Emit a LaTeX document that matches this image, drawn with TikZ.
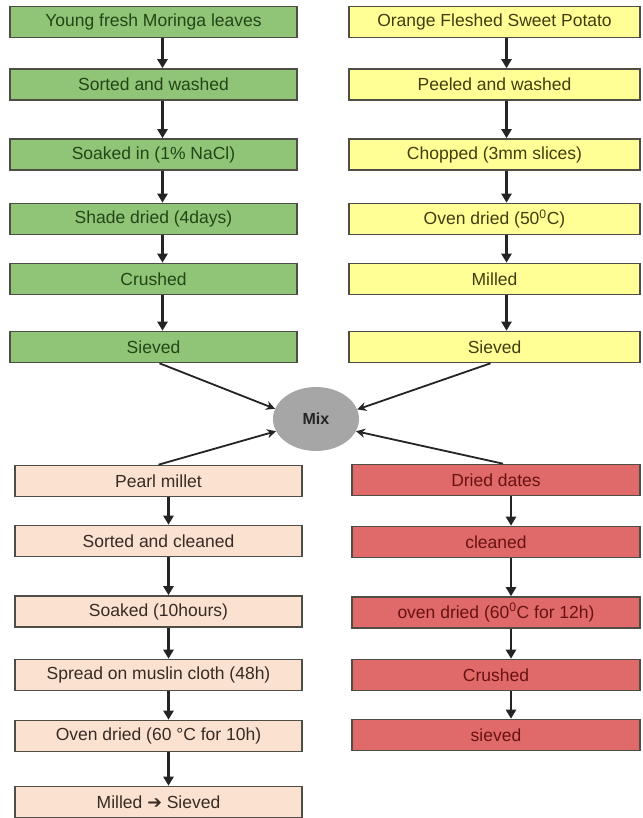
\documentclass[tikz,border=0pt]{standalone}
\usepackage{fontspec}
\setmainfont{Liberation Sans}
\newfontfamily\symfont{DejaVu Sans}
\usetikzlibrary{arrows.meta,shapes.geometric}
\definecolor{leafgreen}{RGB}{144,196,118}
\definecolor{leaftext}{RGB}{34,70,24}
\definecolor{potatofill}{RGB}{255,255,150}
\definecolor{potatotext}{RGB}{64,62,16}
\definecolor{milletfill}{RGB}{251,226,208}
\definecolor{millettext}{RGB}{56,42,36}
\definecolor{datefill}{RGB}{224,106,106}
\definecolor{datetext}{RGB}{104,18,18}
\definecolor{boxline}{RGB}{78,78,70}
\definecolor{mixgray}{RGB}{166,166,166}
\definecolor{arrowgray}{RGB}{36,36,36}
\begin{document}
\begin{tikzpicture}[x=1pt,y=-1pt,
	box/.style={draw=boxline,line width=1.6pt,minimum height=31pt,inner sep=0pt,font=\fontsize{17.5}{20}\selectfont},
	gbox/.style={box,fill=leafgreen,text=leaftext,minimum width=287pt},
	ybox/.style={box,fill=potatofill,text=potatotext,minimum width=291pt},
	pbox/.style={box,fill=milletfill,text=millettext,minimum width=287pt},
	rbox/.style={box,fill=datefill,text=datetext,minimum width=288pt},
	arr/.style={draw=arrowgray,line width=2.4pt,-{Triangle[width=10pt,length=9pt]}},
	mixarr/.style={draw=arrowgray,line width=1.8pt,-{Stealth[width=9pt,length=9pt]}}]
	\useasboundingbox (0,0) rectangle (642,818);
	\node[gbox] (g1) at (153.5,22) {Young fresh Moringa leaves};
	\node[gbox] (g2) at (153.5,84.5) {Sorted and washed};
	\node[gbox] (g3) at (153.5,154.5) {Soaked in (1\% NaCl)};
	\node[gbox] (g4) at (153.5,219) {Shade dried (4days)};
	\node[gbox] (g5) at (153.5,279) {Crushed};
	\node[gbox] (g6) at (153.5,347) {Sieved};
	\node[ybox] (y1) at (494.5,22) {Orange Fleshed Sweet Potato};
	\node[ybox] (y2) at (494.5,84.5) {Peeled and washed};
	\node[ybox] (y3) at (494.5,154.5) {Chopped (3mm slices)};
	\node[ybox] (y4) at (494.5,219) {Oven dried (50\textsuperscript{0}C)};
	\node[ybox] (y5) at (494.5,279) {Milled};
	\node[ybox] (y6) at (494.5,347) {Sieved};
	\node[ellipse,fill=mixgray,minimum width=86pt,minimum height=64pt,inner sep=0pt,
		text=arrowgray,font=\fontsize{16}{19}\selectfont\bfseries] (mix) at (316,419) {Mix};
	\node[pbox] (p1) at (158.5,481) {Pearl millet};
	\node[pbox] (p2) at (158.5,541) {Sorted and cleaned};
	\node[pbox] (p3) at (158.5,611.5) {Soaked (10hours)};
	\node[pbox] (p4) at (158.5,675) {Spread on muslin cloth (48h)};
	\node[pbox] (p5) at (158.5,736) {Oven dried (60 °C for 10h)};
	\node[pbox] (p6) at (158.5,802) {Milled {\symfont ➔} Sieved};
	\node[rbox] (r1) at (496,480) {Dried dates};
	\node[rbox] (r2) at (496,542) {cleaned};
	\node[rbox] (r3) at (496,612.5) {oven dried (60\textsuperscript{0}C for 12h)};
	\node[rbox] (r4) at (496,675) {Crushed};
	\node[rbox] (r5) at (496,735) {sieved};
	\foreach \a/\b in {g1/g2,g2/g3,g3/g4,g4/g5,g5/g6}
		\draw[arr] ([xshift=9pt]\a.south) -- ([xshift=9pt]\b.north);
	\foreach \a/\b in {y1/y2,y2/y3,y3/y4,y4/y5,y5/y6}
		\draw[arr] ([xshift=12pt]\a.south) -- ([xshift=12pt]\b.north);
	\foreach \a/\b in {p1/p2,p2/p3,p3/p4,p4/p5,p5/p6}
		\draw[arr] ([xshift=10pt]\a.south) -- ([xshift=10pt]\b.north);
	\foreach \a/\b in {r1/r2,r2/r3,r3/r4,r4/r5}
		\draw[arr] ([xshift=15pt]\a.south) -- ([xshift=15pt]\b.north);
	\draw[mixarr] ([xshift=6pt]g6.south) -- (mix.166);
	\draw[mixarr] ([xshift=-4pt]y6.south) -- (mix.13);
	\draw[mixarr] (p1.north) -- (mix.197);
	\draw[mixarr] ([xshift=7pt]r1.north) -- (mix.343);
\end{tikzpicture}
\end{document}
